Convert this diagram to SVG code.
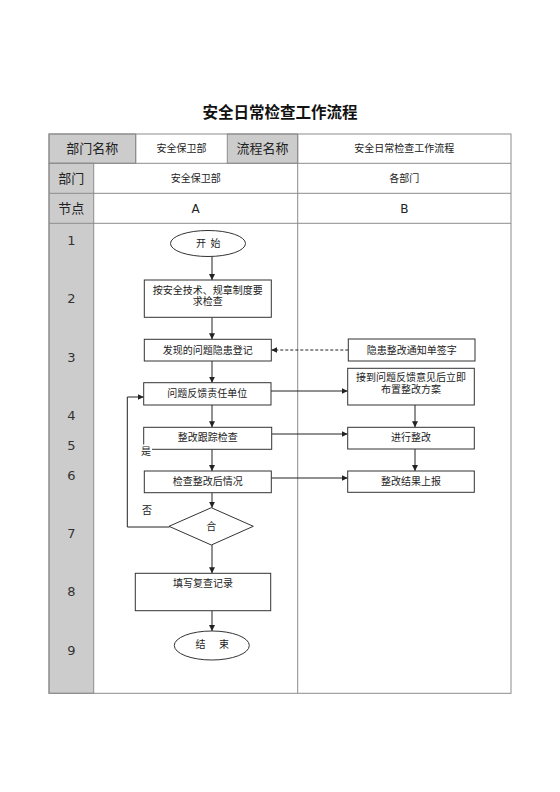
<svg xmlns="http://www.w3.org/2000/svg" width="560" height="792" viewBox="0 0 560 792">
<style>
text{font-family:"DejaVu Sans","Noto Sans CJK SC",sans-serif;fill:#222;text-anchor:middle;dominant-baseline:central}
.grid{fill:none;stroke:#8c8c8c;stroke-width:1}
.gray{fill:#cccccc;stroke:#8c8c8c;stroke-width:1}
.hd{font-size:13px}
.sm{font-size:10px}
.num{font-size:13px;fill:#333}
.node{fill:#fff;stroke:#333;stroke-width:1}
.nt{font-size:10px}
.ln{fill:none;stroke:#222;stroke-width:1}
.dash{stroke-dasharray:3,2}
</style>
<defs>
<marker id="ah" viewBox="0 0 10 10" refX="10" refY="5" markerWidth="6" markerHeight="6" orient="auto" markerUnits="userSpaceOnUse">
<path d="M0,0 L10,5 L0,10 z" fill="#222"/>
</marker>
</defs>
<rect width="560" height="792" fill="#fff"/>
<text x="280" y="113" style="font-size:15.5px;font-weight:bold;fill:#111">安全日常检查工作流程</text>
<g id="table">
<rect class="gray" x="49" y="134" width="86.7" height="29.3"/>
<rect class="gray" x="227.3" y="134" width="70.4" height="29.3"/>
<rect class="gray" x="49" y="163.3" width="44.7" height="530"/>
<rect class="grid" x="49" y="134" width="462" height="559.3"/>
<line class="grid" x1="49" y1="163.3" x2="511" y2="163.3"/>
<line class="grid" x1="49" y1="193.3" x2="511" y2="193.3"/>
<line class="grid" x1="49" y1="223.3" x2="511" y2="223.3"/>
<line class="grid" x1="135.7" y1="134" x2="135.7" y2="163.3"/>
<line class="grid" x1="297.7" y1="134" x2="297.7" y2="693.3"/>
<text class="hd" x="92.3" y="148.7">部门名称</text>
<text class="sm" x="181.5" y="148.7">安全保卫部</text>
<text class="hd" x="262.5" y="148.7">流程名称</text>
<text class="sm" x="404.3" y="148.7">安全日常检查工作流程</text>
<text class="hd" x="71.3" y="178.3">部门</text>
<text class="sm" x="195.7" y="178.3">安全保卫部</text>
<text class="sm" x="404.3" y="178.3">各部门</text>
<text class="hd" x="71.3" y="208.3">节点</text>
<text style="font-size:12px" x="195.7" y="209">A</text>
<text style="font-size:12px" x="404.3" y="209">B</text>
<text class="num" x="71.3" y="240">1</text>
<text class="num" x="71.3" y="298">2</text>
<text class="num" x="71.3" y="357">3</text>
<text class="num" x="71.3" y="415">4</text>
<text class="num" x="71.3" y="445">5</text>
<text class="num" x="71.3" y="475">6</text>
<text class="num" x="71.3" y="533">7</text>
<text class="num" x="71.3" y="591">8</text>
<text class="num" x="71.3" y="650">9</text>
</g>
<g id="connectors">
<line class="ln" x1="212" y1="256.5" x2="212" y2="280" marker-end="url(#ah)"/>
<line class="ln" x1="212" y1="317.3" x2="212" y2="339.3" marker-end="url(#ah)"/>
<line class="ln" x1="212" y1="361" x2="212" y2="382.7" marker-end="url(#ah)"/>
<line class="ln" x1="212" y1="405" x2="212" y2="427.3" marker-end="url(#ah)"/>
<line class="ln" x1="212" y1="449.3" x2="212" y2="471" marker-end="url(#ah)"/>
<line class="ln" x1="212" y1="492.7" x2="212" y2="507.7" marker-end="url(#ah)"/>
<line class="ln" x1="212" y1="545" x2="212" y2="573.3" marker-end="url(#ah)"/>
<line class="ln" x1="212" y1="610.7" x2="212" y2="631" marker-end="url(#ah)"/>
<line class="ln dash" x1="348.3" y1="350" x2="271.3" y2="350" marker-end="url(#ah)"/>
<line class="ln" x1="271" y1="391" x2="347.7" y2="391" marker-end="url(#ah)"/>
<line class="ln" x1="271.7" y1="434" x2="347.7" y2="434" marker-end="url(#ah)"/>
<line class="ln" x1="271.3" y1="478" x2="347.7" y2="478" marker-end="url(#ah)"/>
<line class="ln" x1="415" y1="405" x2="415" y2="427.3" marker-end="url(#ah)"/>
<line class="ln" x1="415" y1="449" x2="415" y2="471" marker-end="url(#ah)"/>
<polyline class="ln" points="169.5,527 127.3,527 127.3,397 143.7,397" marker-end="url(#ah)"/>
</g>
<g id="start">
<ellipse class="node" cx="208" cy="243.5" rx="37.5" ry="13"/>
<text class="nt" x="201" y="243.5">开</text>
<text class="nt" x="215.5" y="243.5">始</text>
</g>
<g id="n2">
<rect class="node" x="144.3" y="280" width="127" height="37.3"/>
<text class="nt" x="207.8" y="290.7">按安全技术、规章制度要</text>
<text class="nt" x="207.8" y="301.5">求检查</text>
</g>
<g id="n3">
<rect class="node" x="144.3" y="339.3" width="127" height="21.7"/>
<text class="nt" x="207.8" y="350">发现的问题隐患登记</text>
</g>
<g id="n4">
<rect class="node" x="143.7" y="382.7" width="127.3" height="22.3"/>
<text class="nt" x="207.3" y="393.5">问题反馈责任单位</text>
</g>
<g id="n5">
<rect class="node" x="143.7" y="427.3" width="128" height="22"/>
<text class="nt" x="207.7" y="437.5">整改跟踪检查</text>
</g>
<g id="n6">
<rect class="node" x="144.3" y="471" width="127" height="21.7"/>
<text class="nt" x="207.8" y="481.5">检查整改后情况</text>
</g>
<g id="decision">
<polygon class="node" points="211.3,507.7 253.3,526.3 211.3,545 169,526.3"/>
<text class="nt" x="211.3" y="526.5">合</text>
</g>
<g id="labels">
<rect x="140" y="444.5" width="12" height="10" fill="#fff"/>
<text class="nt" x="146" y="451.5">是</text>
<text class="nt" x="147" y="510">否</text>
</g>
<g id="n8">
<rect class="node" x="135.3" y="573.3" width="135.4" height="37.4"/>
<text class="nt" x="203" y="583.3">填写复查记录</text>
</g>
<g id="end">
<ellipse class="node" cx="211.8" cy="645.5" rx="37.5" ry="14.5"/>
<text class="nt" x="200.5" y="644.5">结</text>
<text class="nt" x="224" y="644.5">束</text>
</g>
<g id="b1">
<rect class="node" x="348.3" y="339" width="126.7" height="22"/>
<text class="nt" x="411.7" y="350">隐患整改通知单签字</text>
</g>
<g id="b2">
<rect class="node" x="347.7" y="368.3" width="126.6" height="36.7"/>
<text class="nt" x="411" y="377.5">接到问题反馈意见后立即</text>
<text class="nt" x="411" y="389">布置整改方案</text>
</g>
<g id="b3">
<rect class="node" x="347.7" y="427.3" width="126.6" height="21.7"/>
<text class="nt" x="411" y="437.5">进行整改</text>
</g>
<g id="b4">
<rect class="node" x="347.7" y="471" width="126.6" height="21.3"/>
<text class="nt" x="411" y="481">整改结果上报</text>
</g>
</svg>
